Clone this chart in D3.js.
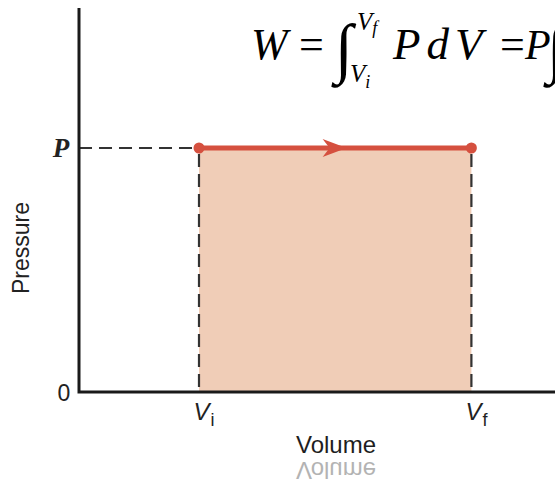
<!DOCTYPE html>
<html>
<head>
<meta charset="utf-8">
<script src="https://cdn.jsdelivr.net/npm/d3@7"></script>
<style>
  body { margin: 0; background: #fff; }
  svg { display: block; }
  .sans { font-family: "Liberation Sans", Arial, sans-serif; }
  .serif { font-family: "Liberation Serif", "Times New Roman", serif; }
</style>
</head>
<body>
<svg id="chart"></svg>
<script>
// values of the process (arbitrary units)
var volumes = [1, 3.27];          // Vi, Vf
var pressures = [1, 1];           // constant pressure P
var arrowAt = 2.23;               // where the arrow tip sits along the path
var volumeTicks = [{v: 1, main: "V", sub: "i"}, {v: 3.27, main: "V", sub: "f"}];
var pressureTicks = [{p: 0, label: "0"}, {p: 1, label: "P"}];
var xTitle = "Volume";
var yTitle = "Pressure";

var screen = {width: 555, height: 486};
var svg = d3.select("#chart")
    .attr("width", screen.width)
    .attr("height", screen.height);

//scales
var xScale = d3.scaleLinear().domain([0, 4]).range([79, 559]);
var yScale = d3.scaleLinear().domain([0, 1]).range([392, 148]);
var yTop = 1.574;

var points = volumes.map(function(v, i) { return {v: v, p: pressures[i]}; });

// shaded work area
var area = d3.area()
    .x(function(d) { return xScale(d.v); })
    .y0(yScale(0))
    .y1(function(d) { return yScale(d.p); });
svg.append("path")
    .datum(points)
    .attr("d", area)
    .attr("fill", "#f0cdb7");

// dashed guides
var guides = svg.append("g")
    .attr("stroke", "#333")
    .attr("stroke-width", 2.2)
    .attr("stroke-dasharray", "13,7");
guides.append("line")
    .attr("x1", xScale(0)).attr("x2", xScale(volumes[0]))
    .attr("y1", yScale(pressures[0])).attr("y2", yScale(pressures[0]));
guides.selectAll("line.v")
    .data(points)
    .enter()
    .append("line")
    .classed("v", true)
    .attr("x1", function(d) { return xScale(d.v); })
    .attr("x2", function(d) { return xScale(d.v); })
    .attr("y1", function(d) { return yScale(d.p) + 6; })
    .attr("y2", yScale(0));

// axes
var axes = svg.append("g")
    .attr("stroke", "#1a1a1a")
    .attr("stroke-width", 3)
    .attr("fill", "none");
axes.append("path")
    .attr("d", "M" + xScale(0) + "," + yScale(yTop) + "V" + yScale(0) + "H" + xScale(4));

// process line
svg.append("path")
    .datum(points)
    .attr("d", d3.line()
        .x(function(d) { return xScale(d.v); })
        .y(function(d) { return yScale(d.p); }))
    .attr("stroke", "#d5503f")
    .attr("stroke-width", 5)
    .attr("fill", "none");

svg.selectAll("circle.end")
    .data(points)
    .enter()
    .append("circle")
    .classed("end", true)
    .attr("cx", function(d) { return xScale(d.v); })
    .attr("cy", function(d) { return yScale(d.p); })
    .attr("r", 5.5)
    .attr("fill", "#d5503f");

// arrow head
var ax = xScale(arrowAt), ay = yScale(pressures[0]);
svg.append("path")
    .attr("d", "M" + ax + "," + ay +
               "L" + (ax - 24) + "," + (ay - 9) +
               "L" + (ax - 17) + "," + ay +
               "L" + (ax - 24) + "," + (ay + 9) + "Z")
    .attr("fill", "#d5503f");

// tick labels
svg.append("text")
    .classed("sans", true)
    .attr("x", 64).attr("y", yScale(pressureTicks[0].p) + 9)
    .attr("text-anchor", "middle")
    .attr("font-size", 23)
    .attr("fill", "#222")
    .text(pressureTicks[0].label);
svg.append("text")
    .classed("serif", true)
    .attr("x", 61).attr("y", yScale(pressureTicks[1].p) + 9)
    .attr("text-anchor", "middle")
    .attr("font-size", 27)
    .attr("font-style", "italic")
    .attr("font-weight", "bold")
    .attr("fill", "#222")
    .text(pressureTicks[1].label);

var vt = svg.selectAll("text.vtick")
    .data(volumeTicks)
    .enter()
    .append("text")
    .classed("vtick sans", true)
    .attr("x", function(d) { return xScale(d.v) + 5; })
    .attr("y", 420)
    .attr("text-anchor", "middle")
    .attr("font-size", 24)
    .attr("fill", "#222");
vt.append("tspan")
    .attr("font-style", "italic")
    .text(function(d) { return d.main; });
vt.append("tspan")
    .attr("font-size", 18)
    .attr("dy", 6)
    .attr("dx", 1)
    .text(function(d) { return d.sub; });

// axis titles
svg.append("text")
    .classed("sans", true)
    .attr("x", 336).attr("y", 453)
    .attr("text-anchor", "middle")
    .attr("font-size", 24)
    .attr("fill", "#1e1e1e")
    .text(xTitle);

svg.append("g")
    .attr("transform", "translate(0,915) scale(1,-1)")
    .append("text")
    .classed("sans", true)
    .attr("x", 336).attr("y", 453)
    .attr("text-anchor", "middle")
    .attr("font-size", 24)
    .attr("fill", "#b3b3b3")
    .text(xTitle);

svg.append("g")
    .attr("transform", "translate(29,248)")
    .append("text")
    .classed("sans", true)
    .attr("text-anchor", "middle")
    .attr("transform", "rotate(-90)")
    .attr("font-size", 23)
    .attr("fill", "#222")
    .text(yTitle);

// formula
var eq = svg.append("g")
    .classed("serif", true)
    .attr("fill", "#000");
eq.append("text").attr("x", 251).attr("y", 59).attr("font-size", 44)
    .attr("font-style", "italic").text("W");
eq.append("text").attr("x", 299).attr("y", 59).attr("font-size", 44).text("=");
eq.append("text").attr("x", 335).attr("y", 70).attr("font-size", 66).text("∫");
eq.append("text").attr("x", 357).attr("y", 30).attr("font-size", 25)
    .attr("font-style", "italic")
    .call(function(t) {
        t.append("tspan").text("V");
        t.append("tspan").attr("font-size", 18).attr("dy", 4).text("f");
    });
eq.append("text").attr("x", 350).attr("y", 82).attr("font-size", 25)
    .attr("font-style", "italic")
    .call(function(t) {
        t.append("tspan").text("V");
        t.append("tspan").attr("font-size", 18).attr("dy", 6).text("i");
    });
eq.append("text").attr("x", 393).attr("y", 59).attr("font-size", 45)
    .attr("font-style", "italic")
    .attr("letter-spacing", 6)
    .text("PdV");
eq.append("text").attr("x", 500).attr("y", 59).attr("font-size", 44).text("=");
eq.append("text").attr("x", 525).attr("y", 59).attr("font-size", 42)
    .attr("font-style", "italic").text("P");
eq.append("text").attr("x", 547).attr("y", 70).attr("font-size", 66).text("∫");
</script>
</body>
</html>
